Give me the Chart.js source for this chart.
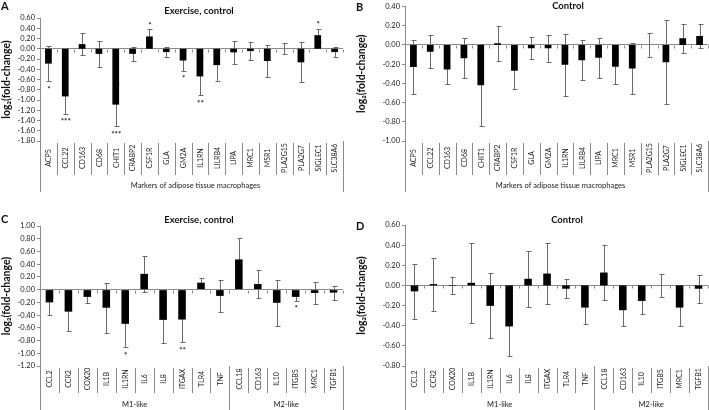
<!DOCTYPE html>
<html>
<head>
<meta charset="utf-8">
<script src="https://cdn.jsdelivr.net/npm/chart.js@4"></script>
<style>
  body { margin: 0; background: #fff; }
  .panel { position: absolute; width: 355px; height: 205px; }
</style>
</head>
<body>
<div class="panel" style="left:0;top:0"><canvas id="chartA"></canvas></div>
<div class="panel" style="left:355px;top:0;width:354px"><canvas id="chartB"></canvas></div>
<div class="panel" style="left:0;top:205px"><canvas id="chartC"></canvas></div>
<div class="panel" style="left:355px;top:205px;width:354px"><canvas id="chartD"></canvas></div>
<script>
// markers of adipose tissue macrophages (panels A, B)
const atmGenes = ['ACP5', 'CCL22', 'CD163', 'CD68', 'CHIT1', 'CRABP2', 'CSF1R', 'GLA', 'GM2A',
  'IL1RN', 'LILRB4', 'LIPA', 'MRC1', 'MSR1', 'PLA2G15', 'PLA2G7', 'SIGLEC1', 'SLC38A6'];
const exerciseAtm = [-0.29, -0.93, 0.09, -0.10, -1.09, -0.10, 0.24, -0.065, -0.23,
  -0.54, -0.32, -0.07, -0.045, -0.24, 0.0, -0.265, 0.265, -0.065];
const exerciseAtmErr = [0.34, 0.34, 0.22, 0.25, 0.42, 0.13, 0.14, 0.10, 0.20,
  0.37, 0.30, 0.23, 0.17, 0.31, 0.11, 0.39, 0.13, 0.10];
const exerciseAtmStars = ['*', '***', '', '', '***', '', '*', '', '*', '**', '', '', '', '', '', '', '*', ''];
const controlAtm = [-0.23, -0.07, -0.255, -0.138, -0.42, 0.017, -0.27, -0.035, -0.035,
  -0.207, -0.159, -0.134, -0.228, -0.245, 0.0, -0.18, 0.069, 0.093];
const controlAtmErr = [0.285, 0.175, 0.155, 0.207, 0.425, 0.185, 0.19, 0.113, 0.138,
  0.32, 0.21, 0.21, 0.18, 0.27, 0.122, 0.44, 0.152, 0.12];

// M1-like / M2-like polarisation markers (panels C, D)
const polGenes = ['CCL2', 'CCR2', 'COX20', 'IL1B', 'IL1RN', 'IL6', 'IL8', 'ITGAX', 'TLR4', 'TNF',
  'CCL18', 'CD163', 'IL10', 'ITGB5', 'MRC1', 'TGFB1'];
const polGroups = ['M1-like', 'M2-like'];
const polGroupSizes = [10, 6];
const exercisePol = [-0.20, -0.346, -0.114, -0.284, -0.537, 0.248, -0.475, -0.47, 0.109, -0.098,
  0.475, 0.088, -0.207, -0.114, -0.052, -0.047];
const exercisePolErr = [0.20, 0.30, 0.09, 0.395, 0.37, 0.28, 0.36, 0.36, 0.08, 0.255,
  0.34, 0.22, 0.36, 0.06, 0.17, 0.108];
const exercisePolStars = ['', '', '', '', '*', '', '', '**', '', '', '', '', '', '*', '', ''];
const controlPol = [-0.059, 0.013, -0.005, 0.026, -0.203, -0.407, 0.066, 0.118, -0.033, -0.22,
  0.128, -0.246, -0.154, 0.0, -0.22, -0.033];
const controlPolErr = [0.275, 0.264, 0.085, 0.397, 0.323, 0.295, 0.28, 0.30, 0.095, 0.165,
  0.27, 0.155, 0.13, 0.113, 0.185, 0.14];

const FONT = 'Lato, "Open Sans", sans-serif';
const LINE = '#8a8a8a';
const TEXT = '#222';

const panelDecor = {
  id: 'panelDecor',
  beforeDatasetsDraw(chart, args, o) {
    const { ctx, scales: { x, y } } = chart;
    const vals = chart.data.datasets[0].data;
    ctx.save();
    ctx.lineWidth = 1;
    // small ticks on the zero line
    ctx.strokeStyle = LINE;
    const y0 = Math.round(y.getPixelForValue(0)) + 0.5;
    for (let i = 0; i <= vals.length; i++) {
      const bx = Math.round(x.getPixelForValue(i - 0.5)) + 0.5;
      ctx.beginPath();
      ctx.moveTo(bx, y0);
      ctx.lineTo(bx, y0 + 3);
      ctx.stroke();
    }
    // error bars (bars drawn afterwards cover the inner half)
    ctx.strokeStyle = '#6a6a6a';
    o.errors.forEach((e, i) => {
      const px = Math.round(x.getPixelForValue(i)) + 0.5;
      const hi = Math.round(y.getPixelForValue(vals[i] + e)) + 0.5;
      const lo = Math.round(y.getPixelForValue(vals[i] - e)) + 0.5;
      ctx.beginPath();
      ctx.moveTo(px, hi); ctx.lineTo(px, lo);
      ctx.moveTo(px - 2, hi); ctx.lineTo(px + 3, hi);
      ctx.moveTo(px - 2, lo); ctx.lineTo(px + 3, lo);
      ctx.stroke();
    });
    ctx.restore();
  },
  afterDraw(chart, args, o) {
    const { ctx, chartArea: a, scales: { x, y } } = chart;
    const vals = chart.data.datasets[0].data;
    const labels = chart.data.labels;
    ctx.save();
    // separators under the category axis
    ctx.strokeStyle = LINE;
    ctx.lineWidth = 1;
    const longAt = [0, labels.length];
    let acc = 0;
    (o.groupSizes || []).forEach(s => { acc += s; longAt.push(acc); });
    for (let i = 0; i <= labels.length; i++) {
      const bx = Math.round(x.getPixelForValue(i - 0.5)) + 0.5;
      const isLong = longAt.includes(i);
      ctx.beginPath();
      ctx.moveTo(bx, a.bottom + (isLong ? 0 : 2));
      ctx.lineTo(bx, a.bottom + (isLong ? o.longLen : o.sepLen));
      ctx.stroke();
    }
    // rotated category labels, centred in their cells
    ctx.fillStyle = TEXT;
    ctx.font = '7px ' + FONT;
    ctx.textAlign = 'center';
    ctx.textBaseline = 'middle';
    labels.forEach((lab, i) => {
      ctx.save();
      ctx.translate(x.getPixelForValue(i) + 0.5, a.bottom + o.labelMid);
      ctx.rotate(-Math.PI / 2);
      ctx.fillText(lab, 0, 0);
      ctx.restore();
    });
    // axis title or group names
    ctx.font = '7.5px ' + FONT;
    if (o.groups) {
      let start = 0;
      o.groups.forEach((g, k) => {
        const end = start + o.groupSizes[k];
        const cx = (x.getPixelForValue(start - 0.5) + x.getPixelForValue(end - 0.5)) / 2;
        ctx.fillText(g, cx, a.bottom + o.footY);
        start = end;
      });
    } else {
      ctx.fillText(o.footer, (a.left + a.right) / 2 + 4, a.bottom + o.footY);
    }
    // significance stars
    ctx.font = 'bold 8px ' + FONT;
    (o.stars || []).forEach((s, i) => {
      if (!s) return;
      const v = vals[i], e = o.errors[i];
      const px = x.getPixelForValue(i) + 0.5;
      if (v >= 0) {
        ctx.fillText(s, px, y.getPixelForValue(v + e) - 4);
      } else {
        ctx.fillText(s, px, y.getPixelForValue(v - e) + 8);
      }
    });
    // panel letter and title
    ctx.font = 'bold 11px ' + FONT;
    ctx.fillStyle = '#111';
    ctx.textAlign = 'left';
    ctx.fillText(o.letter, 1, o.letterY);
    ctx.font = 'bold 9.5px ' + FONT;
    ctx.textAlign = 'center';
    ctx.fillText(o.title, o.titleX, o.titleY);
    ctx.restore();
  }
};

function makeChart(id, cfg) {
  const fmt = v => (Math.abs(v) < 1e-9 ? '0.00' : Number(v).toFixed(2));
  return new Chart(document.getElementById(id), {
    type: 'bar',
    data: {
      labels: cfg.labels,
      datasets: [{
        data: cfg.values,
        backgroundColor: '#000',
        borderWidth: 0,
        barPercentage: 0.4,
        categoryPercentage: 1.0
      }]
    },
    options: {
      responsive: true,
      maintainAspectRatio: false,
      animation: false,
      layout: { padding: cfg.padding },
      plugins: {
        legend: { display: false },
        tooltip: { enabled: false },
        panelDecor: cfg.decor
      },
      scales: {
        x: {
          display: false,
          offset: true
        },
        y: {
          min: cfg.min,
          max: cfg.max,
          afterFit: s => { s.width = cfg.axisWidth; },
          ticks: {
            stepSize: 0.2,
            autoSkip: false,
            color: TEXT,
            font: { family: FONT, size: 7.5 },
            padding: 2,
            callback: fmt
          },
          grid: {
            color: c => (Math.abs(c.tick.value) < 1e-9 ? LINE : 'transparent'),
            tickColor: LINE,
            tickLength: 3
          },
          border: { display: true, color: LINE },
          title: {
            display: true,
            text: 'log₂(fold-change)',
            color: '#111',
            font: { family: FONT, size: 10.5, weight: 'bold' },
            padding: { top: 0, bottom: 0 }
          }
        }
      }
    },
    plugins: [panelDecor]
  });
}

const atmDecor = { sepLen: 34, longLen: 51, labelMid: 17, footY: 45,
  footer: 'Markers of adipose tissue macrophages' };
const polDecor = { sepLen: 27, longLen: 44, labelMid: 13, footY: 39,
  groups: polGroups, groupSizes: polGroupSizes };

makeChart('chartA', {
  labels: atmGenes, values: exerciseAtm, min: -1.8, max: 0.6, axisWidth: 40,
  padding: { top: 18, right: 12, bottom: 64, left: 0 },
  decor: Object.assign({}, atmDecor, { errors: exerciseAtmErr, stars: exerciseAtmStars,
    letter: 'A', letterY: 6, title: 'Exercise, control', titleX: 199, titleY: 11 })
});
makeChart('chartB', {
  labels: atmGenes, values: controlAtm, min: -1.0, max: 0.4, axisWidth: 50,
  padding: { top: 6, right: 1, bottom: 64, left: 0 },
  decor: Object.assign({}, atmDecor, { errors: controlAtmErr,
    letter: 'B', letterY: 7, title: 'Control', titleX: 213, titleY: 6 })
});
makeChart('chartC', {
  labels: polGenes, values: exercisePol, min: -1.2, max: 1.0, axisWidth: 40,
  padding: { top: 21, right: 12, bottom: 44, left: 0 },
  decor: Object.assign({}, polDecor, { errors: exercisePolErr, stars: exercisePolStars,
    letter: 'C', letterY: 14, title: 'Exercise, control', titleX: 199, titleY: 15 })
});
makeChart('chartD', {
  labels: polGenes, values: controlPol, min: -0.8, max: 0.6, axisWidth: 50,
  padding: { top: 20, right: 1, bottom: 44, left: 0 },
  decor: Object.assign({}, polDecor, { errors: controlPolErr,
    letter: 'D', letterY: 21, title: 'Control', titleX: 212, titleY: 15 })
});
</script>
</body>
</html>
